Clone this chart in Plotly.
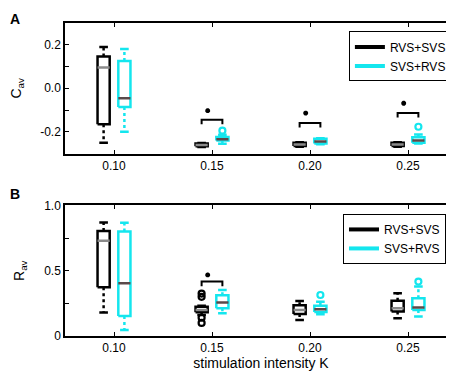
import plotly.graph_objects as go

K = [0.10, 0.15, 0.20, 0.25]
K_labels = ["0.10", "0.15", "0.20", "0.25"]
series_names = ["RVS+SVS", "SVS+RVS"]

# ---- Panel A: C_av box statistics ----
A_rvs_lo = [-0.250, -0.270, -0.269, -0.269]
A_rvs_q1 = [-0.165, -0.267, -0.266, -0.266]
A_rvs_med = [0.095, -0.261, -0.258, -0.258]
A_rvs_q3 = [0.146, -0.254, -0.250, -0.250]
A_rvs_hi = [0.190, -0.252, -0.248, -0.248]
A_rvs_out = [[], [], [], []]

A_svs_lo = [-0.200, -0.255, -0.257, -0.254]
A_svs_q1 = [-0.086, -0.240, -0.254, -0.250]
A_svs_med = [-0.046, -0.234, -0.245, -0.240]
A_svs_q3 = [0.125, -0.224, -0.232, -0.225]
A_svs_hi = [0.180, -0.214, -0.230, -0.212]
A_svs_out = [[], [-0.195], [], [-0.177]]

A_sig_y = [None, -0.145, -0.160, -0.114]
A_star_y = [None, -0.103, -0.114, -0.069]

# ---- Panel B: R_av box statistics ----
B_rvs_lo = [0.180, 0.160, 0.123, 0.136]
B_rvs_q1 = [0.373, 0.182, 0.168, 0.187]
B_rvs_med = [0.729, 0.200, 0.200, 0.212]
B_rvs_q3 = [0.805, 0.225, 0.236, 0.271]
B_rvs_hi = [0.870, 0.232, 0.268, 0.327]
B_rvs_out = [[], [0.300, 0.325, 0.140, 0.100], [], []]

B_svs_lo = [0.046, 0.174, 0.166, 0.149]
B_svs_q1 = [0.153, 0.212, 0.184, 0.200]
B_svs_med = [0.404, 0.256, 0.205, 0.218]
B_svs_q3 = [0.800, 0.312, 0.231, 0.289]
B_svs_hi = [0.867, 0.353, 0.262, 0.379]
B_svs_out = [[], [], [0.314], [0.417]]

B_sig_y = [None, 0.417, None, None]
B_star_y = [None, 0.468, None, None]

# ---- style ----
COLORS = ["#000000", "#14E6EE"]
MEDIAN_COLORS = ["#8a8a8a", "#5a4a4a"]
DODGE = [-0.0053, 0.0053]
HALF_W = 0.0031
CAP_HALF = 0.0022
LW = 2.5
FONT = "Liberation Sans, Arial, sans-serif"

fig = go.Figure()


def add_boxes(xa, ya, stats, sig_y, star_y, leg_depth):
    for s, (lo, q1, med, q3, hi, out) in enumerate(stats):
        bx, by, mx, my, wx, wy, cx, cy, ox, oy = [], [], [], [], [], [], [], [], [], []
        for i, k in enumerate(K):
            xc = k + DODGE[s]
            bx += [xc - HALF_W, xc + HALF_W, xc + HALF_W, xc - HALF_W, xc - HALF_W, None]
            by += [q1[i], q1[i], q3[i], q3[i], q1[i], None]
            mx += [xc - HALF_W, xc + HALF_W, None]
            my += [med[i], med[i], None]
            wx += [xc, xc, None, xc, xc, None]
            wy += [q3[i], hi[i], None, q1[i], lo[i], None]
            cx += [xc - CAP_HALF, xc + CAP_HALF, None, xc - CAP_HALF, xc + CAP_HALF, None]
            cy += [hi[i], hi[i], None, lo[i], lo[i], None]
            for v in out[i]:
                ox.append(xc)
                oy.append(v)
        common = dict(xaxis=xa, yaxis=ya, showlegend=False, hoverinfo="skip")
        fig.add_trace(go.Scatter(x=wx, y=wy, mode="lines",
                                 line=dict(color=COLORS[s], width=LW, dash="dot"), **common))
        fig.add_trace(go.Scatter(x=cx, y=cy, mode="lines",
                                 line=dict(color=COLORS[s], width=LW), **common))
        fig.add_trace(go.Scatter(x=bx, y=by, mode="lines", fill="toself", fillcolor="white",
                                 line=dict(color=COLORS[s], width=LW), **common))
        fig.add_trace(go.Scatter(x=mx, y=my, mode="lines",
                                 line=dict(color=MEDIAN_COLORS[s], width=LW), **common))
        if ox:
            fig.add_trace(go.Scatter(x=ox, y=oy, mode="markers",
                                     marker=dict(symbol="circle-open", size=6, color=COLORS[s],
                                                 line=dict(width=2.2, color=COLORS[s])), **common))
    # significance brackets
    brx, bry, sx, sy = [], [], [], []
    for i, k in enumerate(K):
        if sig_y[i] is None:
            continue
        x0, x1 = k + DODGE[0], k + DODGE[1]
        brx += [x0, x0, x1, x1, None]
        bry += [sig_y[i] - leg_depth, sig_y[i], sig_y[i], sig_y[i] - leg_depth, None]
        sx.append(k - 0.0022)
        sy.append(star_y[i])
    if brx:
        fig.add_trace(go.Scatter(x=brx, y=bry, mode="lines", xaxis=xa, yaxis=ya,
                                 line=dict(color="black", width=2), showlegend=False, hoverinfo="skip"))
        fig.add_trace(go.Scatter(x=sx, y=sy, mode="markers", xaxis=xa, yaxis=ya,
                                 marker=dict(symbol="asterisk-open", size=4, color="black",
                                             line=dict(width=2, color="black")),
                                 showlegend=False, hoverinfo="skip"))


add_boxes("x", "y",
          [(A_rvs_lo, A_rvs_q1, A_rvs_med, A_rvs_q3, A_rvs_hi, A_rvs_out),
           (A_svs_lo, A_svs_q1, A_svs_med, A_svs_q3, A_svs_hi, A_svs_out)],
          A_sig_y, A_star_y, 0.02)
add_boxes("x2", "y2",
          [(B_rvs_lo, B_rvs_q1, B_rvs_med, B_rvs_q3, B_rvs_hi, B_rvs_out),
           (B_svs_lo, B_svs_q1, B_svs_med, B_svs_q3, B_svs_hi, B_svs_out)],
          B_sig_y, B_star_y, 0.035)

# legend entries
for leg, xa, ya in [("legend", "x", "y"), ("legend2", "x2", "y2")]:
    for s, name in enumerate(series_names):
        fig.add_trace(go.Scatter(x=[None], y=[None], mode="lines", name=name, xaxis=xa, yaxis=ya,
                                 line=dict(color=COLORS[s], width=4), legend=leg, showlegend=True))

xcommon = dict(range=[0.075, 0.275], tickvals=K, ticktext=K_labels, ticks="inside", ticklen=4,
               tickwidth=1, tickcolor="black", showline=True, linecolor="black", linewidth=1.5,
               mirror="ticks", showgrid=False, zeroline=False,
               tickfont=dict(size=12, color="black", family=FONT))
ycommon = dict(ticks="inside", ticklen=4, tickwidth=1, tickcolor="black", showline=True,
               linecolor="black", linewidth=1.5, mirror="ticks", showgrid=False, zeroline=False,
               tickfont=dict(size=12, color="black", family=FONT))

A_yticks = [-0.2, 0.0, 0.2]
A_ylabels = ["-0.2", "0.0", "0.2"]
B_yticks = [0.0, 0.5, 1.0]
B_ylabels = ["0", "0.5", "1.0"]

legcommon = dict(bgcolor="white", bordercolor="black", borderwidth=1,
                 font=dict(size=12, color="black", family=FONT), xanchor="right", yanchor="top",
                 tracegroupgap=0, itemwidth=30)

fig.update_layout(
    width=454, height=373,
    margin=dict(l=57, r=3, t=15, b=45),
    paper_bgcolor="white", plot_bgcolor="white",
    font=dict(family=FONT, color="black"),
    xaxis=dict(domain=[0, 1], anchor="y", **xcommon),
    yaxis=dict(domain=[0.583, 1.0], anchor="x", range=[-0.3, 0.3], tickvals=A_yticks,
               ticktext=A_ylabels,
               minor=dict(tick0=0, dtick=0.1, ticks="inside", ticklen=4, tickcolor="black", showgrid=False),
               title=dict(text="C<sub>av</sub>", font=dict(size=14), standoff=16),
               **ycommon),
    xaxis2=dict(domain=[0, 1], anchor="y2",
                title=dict(text="stimulation intensity K", font=dict(size=14), standoff=3), **xcommon),
    yaxis2=dict(domain=[0.0, 0.417], anchor="x2", range=[0, 1], tickvals=B_yticks,
                ticktext=B_ylabels,
                minor=dict(tick0=0, dtick=0.25, ticks="inside", ticklen=4, tickcolor="black", showgrid=False),
                title=dict(text="R<sub>av</sub>", font=dict(size=14), standoff=16),
                **ycommon),
    legend=dict(x=0.987, y=0.973, **legcommon),
    legend2=dict(x=0.972, y=0.39, **legcommon),
    annotations=[
        dict(text="<b>A</b>", x=-57 / 394, y=1.0 + 4 / 313, xref="paper", yref="paper",
             xanchor="left", yanchor="middle", showarrow=False, font=dict(size=14, color="black")),
        dict(text="<b>B</b>", x=-57 / 394, y=(328 - 186) / 313, xref="paper", yref="paper",
             xanchor="left", yanchor="middle", showarrow=False, font=dict(size=14, color="black")),
    ],
)

fig.write_html("out.html")
